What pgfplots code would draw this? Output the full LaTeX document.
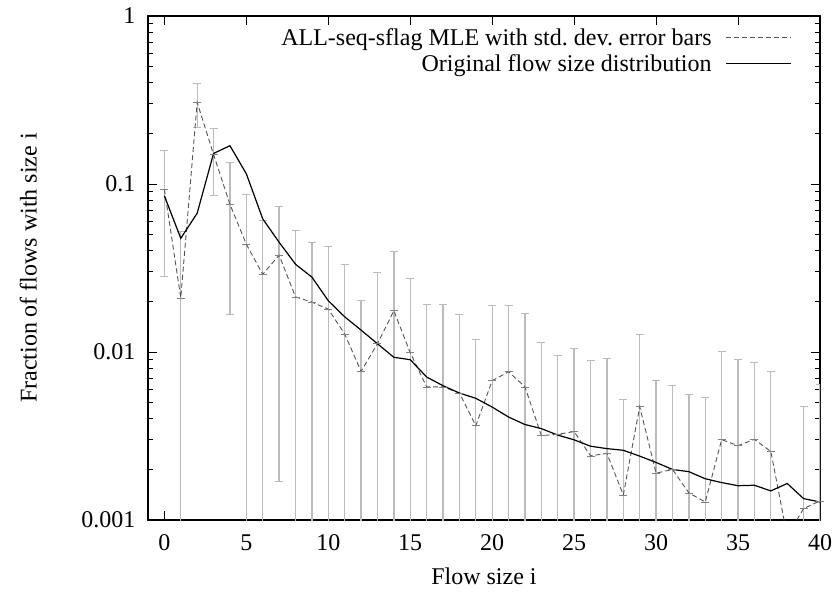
\documentclass[border=0pt]{standalone}
\usepackage{fontspec}
\setmainfont{Liberation Serif}
\usepackage{pgfplots}
\pgfplotsset{compat=1.18}
\usepackage{pgfplotstable}

\definecolor{errgray}{HTML}{BBBBBB}
\definecolor{dashgray}{HTML}{555555}

\pgfplotstableread{
x  mle      ep       em       orig
0  0.093    0.065    0.065    0.085
1  0.021    0.0315   0.0206   0.0475
2  0.306    0.088    0.088    0.067
3  0.150    0.064    0.064    0.152
4  0.0757   0.059    0.059    0.169
5  0.0438   0.043    0.043    0.115
6  0.029    0.032    0.0286   0.062
7  0.0377   0.036    0.036    0.045
8  0.0213   0.0314   0.0209   0.0333
9  0.0198   0.0248   0.0194   0.0279
10 0.0180   0.0242   0.0176   0.0202
11 0.0128   0.0206   0.0124   0.0162
12 0.00767  0.0127   0.00727  0.0135
13 0.0112   0.0184   0.0108   0.0112
14 0.0176   0.0221   0.0172   0.0093
15 0.0099   0.0176   0.0095   0.0090
16 0.0062   0.0130   0.0058   0.0071
17 0.0062   0.0129   0.0058   0.0063
18 0.0057   0.0111   0.0053   0.0057
19 0.00364  0.0083   0.00324  0.0053
20 0.00675  0.0121   0.00635  0.0047
21 0.00763  0.0114   0.00723  0.0041
22 0.0062   0.0108   0.0058   0.0037
23 0.00318  0.00825  0.00278  0.0035
24 0.00324  0.0063   0.00284  0.0032
25 0.00336  0.0072   0.00296  0.0030
26 0.00241  0.0065   0.00201  0.00275
27 0.00249  0.0066   0.00209  0.00266
28 0.00141  0.0038   0.00101  0.0026
29 0.00473  0.0079   0.00433  0.0024
30 0.00190  0.0049   0.0015   0.0022
31 0.00200  0.0043   0.0016   0.0020
32 0.00145  0.0041   0.00105  0.00194
33 0.00128  0.0041   0.00088  0.00176
34 0.00301  0.0070   0.00261  0.00167
35 0.00277  0.0062   0.00237  0.00160
36 0.00302  0.0056   0.00262  0.00161
37 0.00256  0.0051   0.00216  0.00149
38 0.0008   0.0001   0.0001   0.00165
39 0.00117  0.0036   0.00077  0.00134
40 0.0013   0.0051   0.0009   0.00128
}\datatable

\begin{document}
\begin{tikzpicture}
\begin{axis}[
  name=ax,
  scale only axis,
  width=672pt, height=504pt,
  ymode=log,
  xmin=-1, xmax=40,
  ymin=0.001, ymax=1,
  xtick={0,5,10,15,20,25,30,35,40},
  xticklabels={0,5,10,15,20,25,30,35,40},
  ytick={0.001,0.01,0.1,1},
  yticklabels={0.001,0.01,0.1,1},
  minor ytick={0.002,0.003,0.004,0.005,0.006,0.007,0.008,0.009,0.02,0.03,0.04,0.05,0.06,0.07,0.08,0.09,0.2,0.3,0.4,0.5,0.6,0.7,0.8,0.9},
  minor xtick={},
  tick align=inside,
  xtick pos=both, ytick pos=both,
  major tick length=9pt,
  minor tick length=5pt,
  tick style={black, line width=0.8pt},
  axis line style={line width=1.2pt},
  tick label style={font=\fontsize{24}{28}\selectfont},
  xticklabel style={yshift=-11pt},
  yticklabel style={xshift=-9pt},
  xlabel={Flow size i},
  ylabel={Fraction of flows with size i},
  every axis x label/.style={at={(axis description cs:0.5,0)}, anchor=north, yshift=-44pt, font=\fontsize{24}{28}\selectfont},
  every axis y label/.style={at={(axis description cs:-0.16,0.5)}, rotate=90, anchor=south, font=\fontsize{24}{28}\selectfont},
  legend style={
    at={(axis description cs:1,1)}, anchor=north east,
    xshift=-28pt, yshift=-10pt,
    draw=none, fill=none,
    font=\fontsize{24}{28}\selectfont,
    row sep=4pt,
    column sep=12pt,
    inner sep=0pt,
  },
  legend cell align=right,
  legend plot pos=right,
  legend image code/.code={\draw[#1] (0pt,0pt) -- (65pt,0pt);},
  clip=true,
]
% error bars
\addplot[
  errgray, line width=1.3pt, only marks, forget plot,
  mark=-, mark size=4pt, mark options={gray, line width=0.6pt},
  error bars/.cd, y dir=both, y explicit,
  error bar style={errgray, line width=1.3pt},
  error mark options={errgray, mark size=4pt, line width=1pt, rotate=90},
] table[x=x, y=mle, y error plus=ep, y error minus=em] {\datatable};
% MLE dashed line
\addplot[dashgray, line width=0.9pt, dash pattern=on 5pt off 3pt, no marks]
  table[x=x, y=mle] {\datatable};
\addlegendentry{ALL-seq-sflag MLE with std.\ dev.\ error bars}
% original
\addplot[black, line width=1.2pt, no marks]
  table[x=x, y=orig] {\datatable};
\addlegendentry{Original flow size distribution}
\end{axis}
\pgfresetboundingbox
\path ([shift={(-148pt,-73pt)}]ax.south west) rectangle ([shift={(18pt,16pt)}]ax.north east);
\end{tikzpicture}
\end{document}
